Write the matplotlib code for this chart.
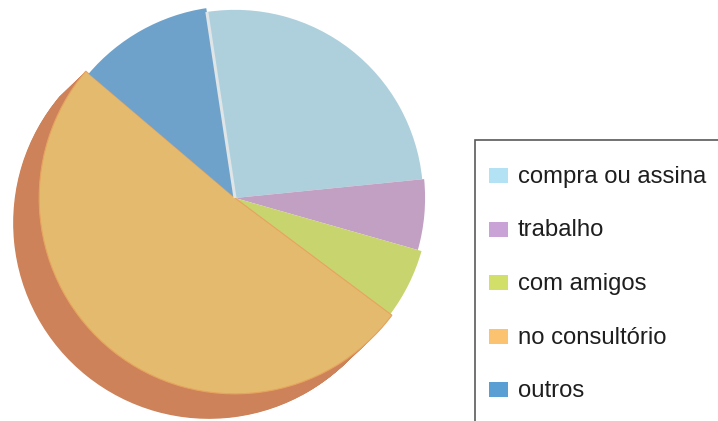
import numpy as np
import matplotlib
matplotlib.use("Agg")
import matplotlib.pyplot as plt
from matplotlib.patches import Rectangle

plt.rcParams['font.family'] = ['Liberation Sans', 'DejaVu Sans']

# Survey answers (percent)
labels = ["compra ou assina", "trabalho", "com amigos", "no consultório", "outros"]
values = [25.8, 6.0, 5.8, 51.0, 11.4]
slice_colors = ["#aed0dc", "#c2a0c4", "#c8d46e", "#e4ba6e", "#6ea2ca"]
legend_colors = ["#b4e2f5", "#caa3d6", "#d2e06a", "#fbc270", "#5a9fd4"]
side_color = "#cd825a"

W, H = 718, 421
fig = plt.figure(figsize=(W / 100, H / 100), dpi=100)
ax = fig.add_axes([0, 0, 1, 1])

cx, cy = 235, H - 198
radius = 192
radius_scale = [0.98, 0.99, 1.01, 1.02, 1.0]
start = 98.6
depth = np.array([-26.0, -25.0])   # extrusion of the big slice (down-left)

# Side face of the big slice: swept copies of its wedge
for t in np.linspace(1, 0, 40):
    cols = ["none"] * len(values)
    cols[3] = side_color
    w, _ = ax.pie(values, colors=cols, startangle=start, counterclock=False,
                  center=(cx + t * depth[0], cy + t * depth[1]), radius=radius,
                  wedgeprops=dict(linewidth=0))
    for wd, s in zip(w, radius_scale):
        wd.set_radius(radius * s)

# Top face
wedges, _ = ax.pie(values, colors=slice_colors, startangle=start, counterclock=False,
                   center=(cx, cy), radius=radius, wedgeprops=dict(linewidth=0))
for wd, s in zip(wedges, radius_scale):
    wd.set_radius(radius * s)
wedges[3].set_edgecolor("#e7a45e")
wedges[3].set_linewidth(0.8)

# light seam where the pie starts
a = np.deg2rad(start)
r0 = radius * radius_scale[0]
ax.plot([cx, cx + r0 * np.cos(a)], [cy, cy + r0 * np.sin(a)],
        color="#dfe4e7", lw=2.2, solid_capstyle="butt", zorder=3)

# Legend box (runs past the right and bottom edges)
ax.add_patch(Rectangle((476.5, -10), 300, H - 140 + 10 - 0.5, facecolor="none",
                       edgecolor="#cfcfcf", lw=2.5, zorder=4))
ax.add_patch(Rectangle((475, -10), 300, H - 140 + 10, facecolor="white",
                       edgecolor="#5a5a5a", lw=1.2, zorder=5))
row0, step = 183, 53.5
for i, (lab, col) in enumerate(zip(labels, legend_colors)):
    base = row0 + i * step
    ax.add_patch(Rectangle((489, H - base), 19, 15, facecolor=col,
                           edgecolor="none", zorder=6))
    ax.text(518, H - base, lab, fontsize=17.2, color="#1e1e1e",
            ha="left", va="baseline", zorder=6)

ax.set_xlim(0, W)
ax.set_ylim(0, H)
ax.set_aspect("equal")
ax.axis("off")

fig.savefig("out.png", dpi=100, facecolor="white")
